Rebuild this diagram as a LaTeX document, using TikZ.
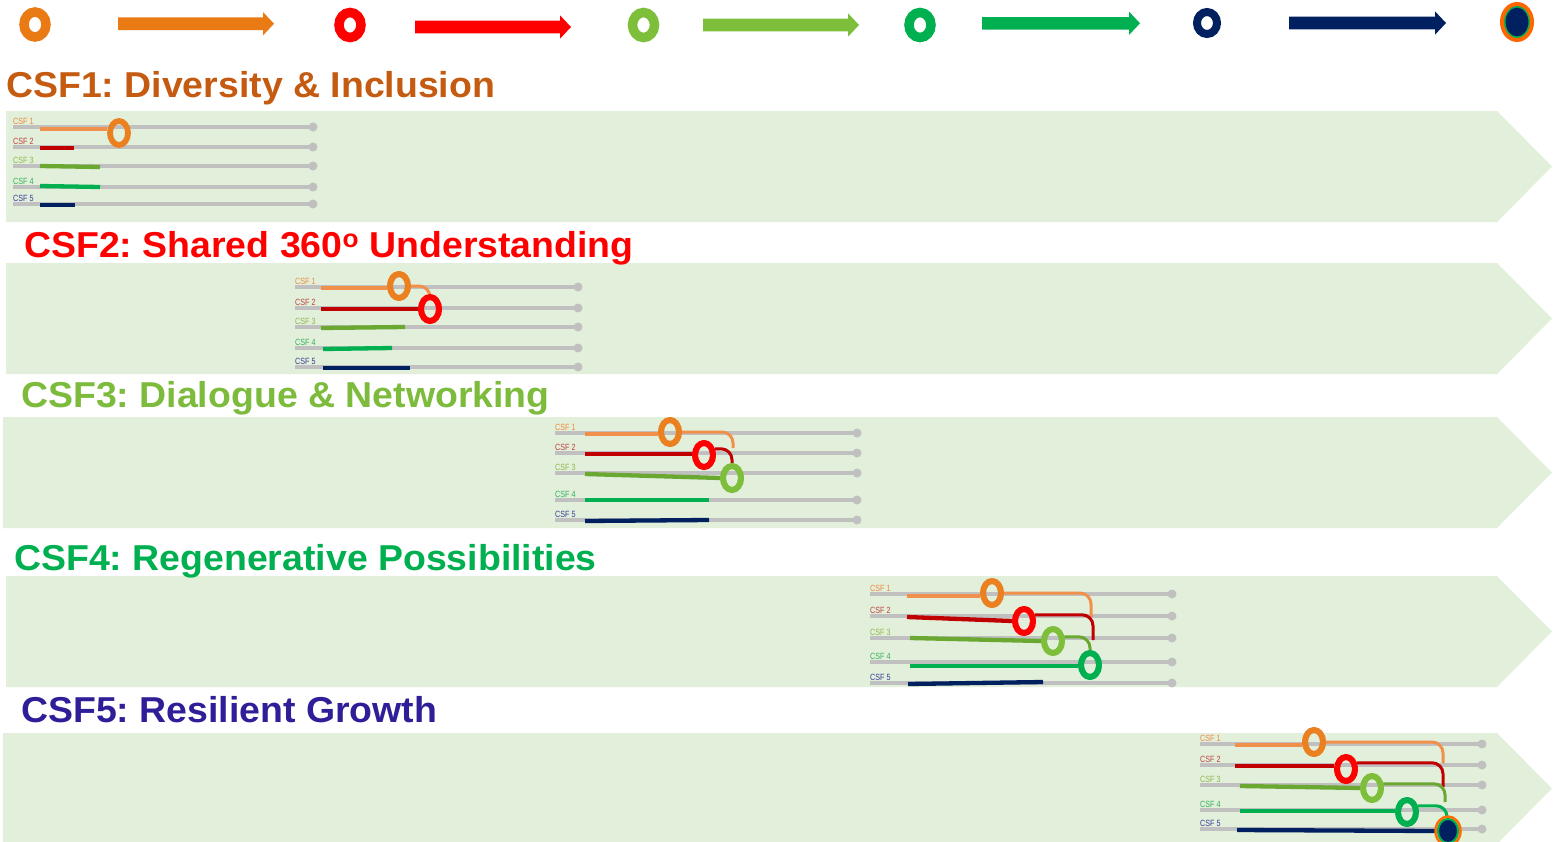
\documentclass[tikz,border=0pt]{standalone}
\usepackage{fontspec}
\setmainfont{Liberation Sans}
\usetikzlibrary{shapes.geometric}
\frenchspacing
\definecolor{bandc}{HTML}{E2EFDA}
\definecolor{legorange}{HTML}{E97A14}
\definecolor{ringorange}{HTML}{EA8020}
\definecolor{lineorange}{HTML}{F0904A}
\definecolor{ringred}{HTML}{FF0000}
\definecolor{linered}{HTML}{C00000}
\definecolor{ringlg}{HTML}{7DBE3A}
\definecolor{linelg}{HTML}{6AA832}
\definecolor{ringgreen}{HTML}{00B050}
\definecolor{linegreen}{HTML}{00B050}
\definecolor{navyc}{HTML}{002060}
\definecolor{trackgray}{HTML}{C0C0C0}
\definecolor{tone}{HTML}{C55A11}
\definecolor{ttwo}{HTML}{FF0000}
\definecolor{tthree}{HTML}{7DBB3C}
\definecolor{tfour}{HTML}{00B050}
\definecolor{tfive}{HTML}{2E1E98}
\definecolor{labone}{HTML}{EE8A40}
\definecolor{labtwo}{HTML}{C0403D}
\definecolor{labthree}{HTML}{8CB84A}
\definecolor{labfour}{HTML}{30B05A}
\definecolor{labfive}{HTML}{3A3A9A}
\newcommand\csfband[2]{\fill[bandc] (#2,#1) -- (1497,#1) -- (1552,#1+55.5) -- (1497,#1+111) -- (#2,#1+111) -- cycle;}
\newcommand\legarrow[5]{%
  \coordinate (#1s) at (#3,#5); \coordinate (#1e) at (#4,#5);
  \fill[#2] (#1s) ++(0,-6.3) -- ++(#4-#3-11,0) -- ++(0,-5.4) -- (#1e) -- ++(-11,11.7) -- ++(0,-5.4) -- ++(#3-#4+11,0) -- cycle;}
\newcommand\csftracks[8]{%
  \foreach \k/\yy/\cc in {1/#4/labone,2/#5/labtwo,3/#6/labthree,4/#7/labfour,5/#8/labfive}{%
    \coordinate (#1t\k) at (#2,\yy);
    \node[trackdot] (#1d\k) at (#3,\yy) {};
    \draw[track] (#1t\k) -- (#1d\k.center);
    \node[tinylab, text=\cc] (#1l\k) at (#2,\yy-2.5) {\scalebox{0.8}[1]{CSF \k}};
  }}
\newcommand\ttl[1]{\scalebox{1.04}[1]{#1}}
\begin{document}
\begin{tikzpicture}[x=1pt,y=-1pt,
  title/.style={anchor=base west, inner sep=0pt, font=\fontsize{36}{40}\selectfont\bfseries},
  tinylab/.style={anchor=base west, inner sep=0pt, font=\fontsize{9}{9}\selectfont},
  track/.style={draw=trackgray, line width=3.6pt},
  trackdot/.style={circle, fill=trackgray, minimum size=9pt, inner sep=0pt},
  prog/.style={line width=4.3pt},
  conn/.style={line width=3pt, rounded corners=11pt},
  ring/.style={ellipse, draw=#1, line width=5.8pt, minimum width=18pt, minimum height=24pt, inner sep=0pt},
  legring/.style={ellipse, draw=#1, line width=9.5pt, minimum width=22pt, minimum height=25pt, inner sep=0pt}]
\useasboundingbox (0,0) rectangle (1555,841);
\fill[white] (0,0) rectangle (1555,841);
% bands
\csfband{111}{6}
\csfband{263}{6}
\csfband{417}{3}
\csfband{576}{6}
\csfband{733}{3}
% legend
\node[legring=legorange] (lr1) at (35,24.5) {};
\legarrow{la1}{legorange}{118}{274}{23.7}
\node[legring=ringred] (lr2) at (350,25) {};
\legarrow{la2}{ringred}{415}{571}{27}
\node[legring=ringlg] (lr3) at (643.5,25) {};
\legarrow{la3}{ringlg}{703}{859}{25}
\node[legring=ringgreen] (lr4) at (920,25) {};
\legarrow{la4}{ringgreen}{982}{1140}{23.3}
\node[legring=navyc, line width=8pt, minimum width=20pt, minimum height=22pt] (lr5) at (1207,23) {};
\legarrow{la5}{navyc}{1289}{1446}{23}
\node[ellipse, fill=navyc, draw=ringgreen, line width=3pt, minimum width=26pt, minimum height=32pt, inner sep=0pt] (lr6) at (1517,22) {};
\draw[orange!80!red, line width=4pt] (lr6.center) ellipse [x radius=15pt, y radius=18pt];
% titles
\node[title, text=tone] (title1) at (6,97) {\ttl{CSF1: Diversity \& Inclusion}};
\node[title, text=ttwo] (title2) at (24,257) {\ttl{CSF2: Shared 360\textsuperscript{o} Understanding}};
\node[title, text=tthree] (title3) at (21,407) {\ttl{CSF3: Dialogue \& Networking}};
\node[title, text=tfour] (title4) at (14,570) {\ttl{CSF4: Regenerative Possibilities}};
\node[title, text=tfive] (title5) at (21,722) {\ttl{CSF5: Resilient Growth}};
% ---------- chart 1
\csftracks{a}{13}{313}{127}{147}{166}{187}{204}
\node[ring=ringorange] (ar1) at (119,133) {};
\coordinate (ap1) at (40,129); \coordinate (ap2) at (40,148); \coordinate (ap3) at (40,166);
\coordinate (ap4) at (40,186); \coordinate (ap5) at (40,205);
\coordinate (aq2) at (74,148); \coordinate (aq3) at (100,167); \coordinate (aq4) at (100,187); \coordinate (aq5) at (75,205);
\draw[prog, lineorange] (ap1) -- (ap1 -| ar1.west);
\draw[prog, linered] (ap2) -- (aq2);
\draw[prog, linelg] (ap3) -- (aq3);
\draw[prog, linegreen] (ap4) -- (aq4);
\draw[prog, navyc] (ap5) -- (aq5);
% ---------- chart 2
\csftracks{b}{295}{578}{287}{308}{327}{348}{367}
\node[ring=ringorange] (br1) at (399,286) {};
\node[ring=ringred] (br2) at (430,309) {};
\coordinate (bp1) at (321,288); \coordinate (bp2) at (321,309); \coordinate (bp3) at (321,328);
\coordinate (bp4) at (323,349); \coordinate (bp5) at (323,368);
\coordinate (bq3) at (405,327); \coordinate (bq4) at (392,348); \coordinate (bq5) at (410,368);
\draw[prog, lineorange] (bp1) -- (bp1 -| br1.west);
\draw[prog, linered] (bp2) -- (bp2 -| br2.west);
\draw[prog, linelg] (bp3) -- (bq3);
\draw[prog, linegreen] (bp4) -- (bq4);
\draw[prog, navyc] (bp5) -- (bq5);
\draw[conn, lineorange] (br1.east) -| (br2.north);
\node[ring=ringorange] at (br1) {};
\node[ring=ringred] at (br2) {};
% ---------- chart 3
\csftracks{c}{555}{857}{433}{453}{473}{500}{520}
\node[ring=ringorange] (cr1) at (670,432) {};
\node[ring=ringred] (cr2) at (704,455) {};
\node[ring=ringlg] (cr3) at (732,478) {};
\coordinate (cp1) at (585,434); \coordinate (cp2) at (585,454); \coordinate (cp3) at (585,474);
\coordinate (cp4) at (585,500); \coordinate (cp5) at (585,521);
\coordinate (cq4) at (709,500); \coordinate (cq5) at (709,520);
\coordinate (cj1) at (733,448);
\draw[prog, lineorange] (cp1) -- (cp1 -| cr1.west);
\draw[prog, linered] (cp2) -- (cp2 -| cr2.west);
\draw[prog, linelg] (cp3) -- (cr3.west);
\draw[prog, linegreen] (cp4) -- (cq4);
\draw[prog, navyc] (cp5) -- (cq5);
\draw[conn, lineorange] (cr1.east) -| (cj1);
\draw[conn, linered] (cr2.30) -| (cr3.north);
\node[ring=ringorange] at (cr1) {};
\node[ring=ringred] at (cr2) {};
\node[ring=ringlg] at (cr3) {};
% ---------- chart 4
\csftracks{d}{870}{1172}{594}{616}{638}{662}{683}
\node[ring=ringorange] (dr1) at (992,593) {};
\node[ring=ringred] (dr2) at (1024,621) {};
\node[ring=ringlg] (dr3) at (1053,641) {};
\node[ring=ringgreen] (dr4) at (1090,665) {};
\coordinate (dp1) at (907,596); \coordinate (dp2) at (907,617); \coordinate (dp3) at (910,638);
\coordinate (dp4) at (910,666); \coordinate (dp5) at (908,684);
\coordinate (dq5) at (1043,682);
\coordinate (dj1) at (1091,617); \coordinate (dj2) at (1093,640);
\draw[prog, lineorange] (dp1) -- (dp1 -| dr1.west);
\draw[prog, linered] (dp2) -- (dr2.west);
\draw[prog, linelg] (dp3) -- (dr3.west);
\draw[prog, linegreen] (dp4) -- (dp4 -| dr4.west);
\draw[prog, navyc] (dp5) -- (dq5);
\draw[conn, lineorange] (dr1.east) -| (dj1);
\draw[conn, linered] (dr2.30) -| (dj2);
\draw[conn, linelg] (dr3.20) -| (dr4.north);
\node[ring=ringorange] at (dr1) {};
\node[ring=ringred] at (dr2) {};
\node[ring=ringlg] at (dr3) {};
\node[ring=ringgreen] at (dr4) {};
% ---------- chart 5
\csftracks{e}{1200}{1482}{744}{765}{785}{810}{829}
\node[ring=ringorange] (er1) at (1314,742) {};
\node[ring=ringred] (er2) at (1346,769) {};
\node[ring=ringlg] (er3) at (1372,788) {};
\node[ring=ringgreen] (er4) at (1407,812) {};
\node[ellipse, fill=navyc, draw=ringgreen, line width=2pt, minimum width=20pt, minimum height=24pt, inner sep=0pt] (er5) at (1448,831) {};
\coordinate (ep1) at (1235,745); \coordinate (ep2) at (1235,766); \coordinate (ep3) at (1240,786);
\coordinate (ep4) at (1240,811); \coordinate (ep5) at (1237,830);
\coordinate (ej1) at (1443,763); \coordinate (ej2) at (1443,787); \coordinate (ej3) at (1445,802); \coordinate (ej4) at (1447,818);
\draw[prog, lineorange] (ep1) -- (ep1 -| er1.west);
\draw[prog, linered] (ep2) -- (ep2 -| er2.west);
\draw[prog, linelg] (ep3) -- (er3.west);
\draw[prog, linegreen] (ep4) -- (ep4 -| er4.west);
\draw[prog, navyc] (ep5) -- (er5.west);
\draw[conn, lineorange] (er1.east) -| (ej1);
\draw[conn, linered] (er2.30) -| (ej2);
\draw[conn, linelg] (er3.20) -| (ej3);
\draw[conn, linegreen] (er4.30) -| (ej4);
\node[ring=ringorange] at (er1) {};
\node[ring=ringred] at (er2) {};
\node[ring=ringlg] at (er3) {};
\node[ring=ringgreen] at (er4) {};
\node[ellipse, fill=navyc, draw=ringgreen, line width=2pt, minimum width=20pt, minimum height=24pt, inner sep=0pt] at (er5) {};
\draw[orange!85!red, line width=2.5pt] (er5.center) ellipse [x radius=12.5pt, y radius=14.5pt];
\end{tikzpicture}
\end{document}
